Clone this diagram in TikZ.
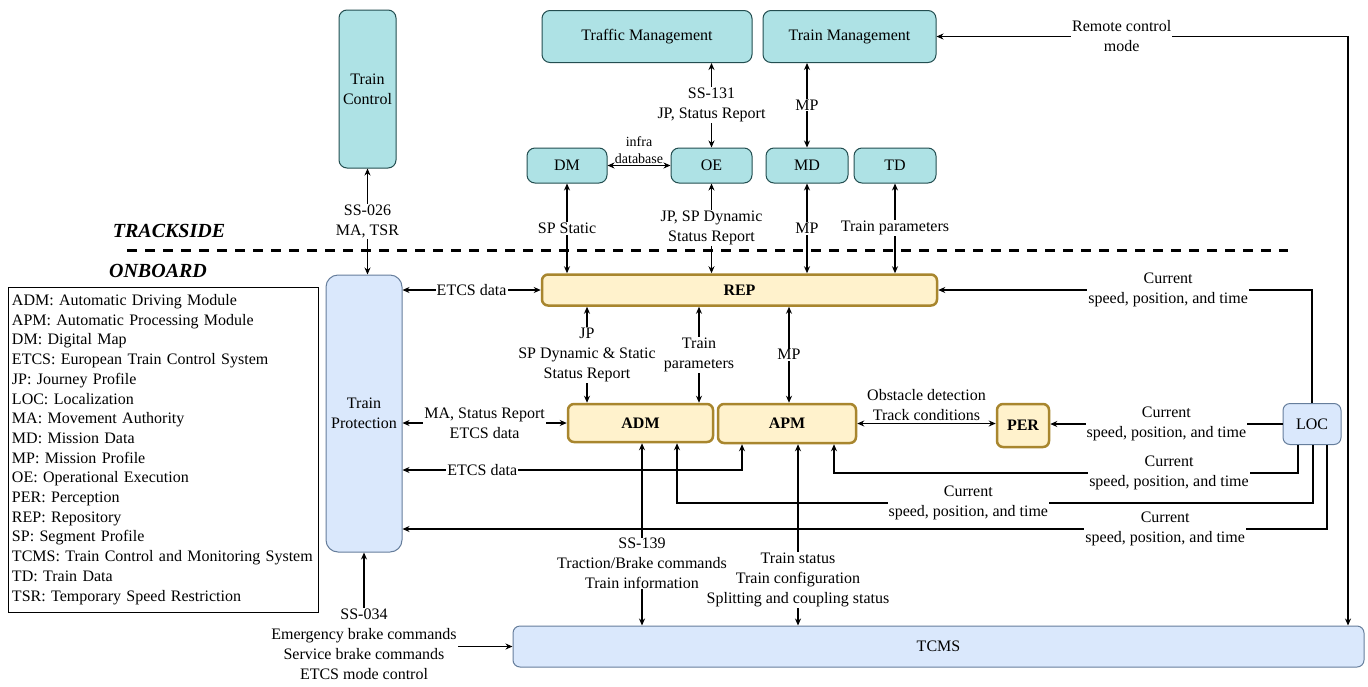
\documentclass[tikz,border=0pt]{standalone}
\usepackage{fontspec}
\setmainfont{Liberation Serif}
\newfontfamily\tms{Liberation Serif}
\usetikzlibrary{arrows.meta,calc}
\definecolor{tealF}{HTML}{AEE2E5}
\definecolor{tealD}{HTML}{234E50}
\definecolor{blueF}{HTML}{DAE8FC}
\definecolor{blueD}{HTML}{667E9C}
\definecolor{yelF}{HTML}{FFF2CC}
\definecolor{yelD}{HTML}{A8862E}
\begin{document}
\begin{tikzpicture}[x=1pt,y=-1pt,
  every node/.style={font=\tms\fontsize{16}{20}\selectfont},
  tbox/.style={draw=tealD, fill=tealF, rounded corners=8pt, line width=1pt, inner sep=0pt, align=center},
  bbox/.style={draw=blueD, fill=blueF, rounded corners=10pt, line width=1pt, inner sep=0pt, align=center},
  ybox/.style={draw=yelD, fill=yelF, rounded corners=6pt, line width=2.5pt, inner sep=0pt, font=\tms\fontsize{16}{20}\selectfont\bfseries},
  lbl/.style={fill=white, inner sep=1pt, align=center},
  tip/.tip={Stealth[length=7pt,width=6pt]},
  conn/.style={line width=1.1pt, tip-tip},
  arr/.style={line width=1.1pt, -tip},
  sepline/.style={line width=3pt, dash pattern=on 10pt off 8pt},
  hdr/.style={font=\tms\fontsize{20}{22}\selectfont\bfseries\itshape}
]
\useasboundingbox (0,0) rectangle (1368,686);
\fill[white] (0,0) rectangle (1368,686);

% separator
\draw[sepline] (127,250) -- (1288,250);
\node[hdr] (ts) at (169,231) {TRACKSIDE};
\node[hdr] (ob) at (158,271) {ONBOARD};

% trackside nodes
\node[tbox, minimum width=57pt, minimum height=158pt] (TC) at (367.5,89) {Train\\Control};
\node[tbox, minimum width=210pt, minimum height=52pt] (TrafM) at (647,36.5) {Traffic Management};
\node[tbox, minimum width=173pt, minimum height=52pt] (TrnM) at (849.5,36.5) {Train Management};
\node[tbox, minimum width=80pt, minimum height=35pt] (DM) at (567,165.5) {DM};
\node[tbox, minimum width=81pt, minimum height=35pt] (OE) at (711.5,165.5) {OE};
\node[tbox, minimum width=82pt, minimum height=35pt] (MD) at (807,165.5) {MD};
\node[tbox, minimum width=82pt, minimum height=35pt] (TD) at (895,165.5) {TD};

% onboard nodes
\node[bbox, rounded corners=12pt, minimum width=76pt, minimum height=277pt] (TP) at (364,413.5) {Train\\Protection};
\node[ybox, minimum width=395pt, minimum height=31pt] (REP) at (739.5,290) {REP};
\node[ybox, minimum width=145pt, minimum height=38pt] (ADM) at (640.5,423) {ADM};
\node[ybox, minimum width=138pt, minimum height=39pt] (APM) at (787,423.5) {APM};
\node[ybox, minimum width=52pt, minimum height=43pt] (PER) at (1023,425.5) {PER};
\node[bbox, rounded corners=7pt, minimum width=58pt, minimum height=41pt] (LOC) at (1312,424) {LOC};
\node[bbox, rounded corners=7pt, minimum width=851pt, minimum height=41pt] (TCMS) at (938.5,646.5) {TCMS};

% trackside connectors
\draw[conn, line width=1.5pt] (TC.south) -- node[lbl] (l026) {SS-026\\MA, TSR} (TC.south |- TP.north);
\draw[conn] (OE.north |- TrafM.south) -- node[lbl] (l131) {SS-131\\JP, Status Report} (OE.north);
\draw[conn] (MD.north |- TrnM.south) -- node[lbl] (lmp1) {MP} (MD.north);
\draw[conn] (DM.east) -- node[above=0pt, align=center, inner sep=1pt, font=\tms\fontsize{14}{17}\selectfont] (linfra) {infra\\database} (OE.west);
\draw[conn] (DM.south) -- node[lbl] (lsps) {SP Static} (DM.south |- REP.north);
\draw[conn] (OE.south) -- node[lbl] (ljp) {JP, SP Dynamic\\Status Report} (OE.south |- REP.north);
\draw[conn, line width=1.5pt] (MD.south) -- node[lbl] (lmp2) {MP} (MD.south |- REP.north);
\draw[conn] (TD.south) -- node[lbl] (ltp) {Train parameters} (TD.south |- REP.north);

% remote control
\coordinate (rc) at (1348,36.5);
\draw[conn] (TrnM.east) -- node[lbl, pos=0.45] (lrc) {Remote control\\mode} (rc) -- (rc |- TCMS.north);

% TP - REP
\draw[conn] (REP.west -| TP.east) -- node[lbl] (letcs1) {ETCS data} (REP.west);

% LOC -> REP
\draw[arr] (LOC.north) -- (LOC.north |- REP.east) -- node[lbl, pos=0.385] (lcur1) {Current\\speed, position, and time} (REP.east);

% REP - ADM/APM
\draw[conn] (587,0 |- REP.south) -- node[lbl] (ljp2) {JP\\SP Dynamic \& Static\\Status Report} (587,0 |- ADM.north);
\draw[conn] (699,0 |- REP.south) -- node[lbl] (ltp2) {Train\\parameters} (699,0 |- ADM.north);
\draw[conn, line width=1.5pt] (789,0 |- REP.south) -- node[lbl] (lmp3) {MP} (789,0 |- APM.north);

% TP - ADM
\draw[conn] (ADM.west -| TP.east) -- node[lbl] (lma) {MA, Status Report\\ETCS data} (ADM.west);

% APM - PER
\draw[conn] (APM.east) -- node[above=1pt, align=center, inner sep=1pt] (lobs) {Obstacle detection\\Track conditions} (APM.east -| PER.west);

% LOC -> PER
\draw[arr] (LOC.west) -- node[lbl] (lcur2) {Current\\speed, position, and time} (LOC.west -| PER.east);

% LOC -> APM
\draw[arr] (1298,0 |- LOC.south) -- (1298,473) -- node[lbl, pos=0.278] (lcur3) {Current\\speed, position, and time} (834,473) -- (834,0 |- APM.south);

% LOC -> ADM
\draw[arr] (1313,0 |- LOC.south) -- (1313,503) -- node[lbl, pos=0.542] (lcur4) {Current\\speed, position, and time} (677,503) -- (677,0 |- ADM.south);

% LOC -> TP
\draw[arr] (1327,0 |- LOC.south) -- (1327,529) -- node[lbl, pos=0.175] (lcur5) {Current\\speed, position, and time} (TP.east |- 0,529);

% TP - APM ETCS data
\draw[conn] (TP.east |- 0,470) -- node[lbl, pos=0.235] (letcs2) {ETCS data} (742,470) -- (742,0 |- APM.south);

% APM/ADM - TCMS
\draw[conn] (798,0 |- APM.south) -- node[lbl, pos=0.75] (lstat) {Train status\\Train configuration\\Splitting and coupling status} (798,0 |- TCMS.north);
\draw[conn, line width=1.5pt] (642,0 |- ADM.south) -- node[lbl, inner sep=0pt, pos=0.66] (l139) {SS-139\\Traction/Brake commands\\Train information} (642,0 |- TCMS.north);

% TP - TCMS
\coordinate (sc) at (TP.south |- TCMS.west);
\draw[conn, line width=1.5pt] (TP.south) -- (sc) -- (TCMS.west);
\node[lbl, yshift=2pt] (l034) at (sc) {SS-034\\Emergency brake commands\\Service brake commands\\ETCS mode control};

% legend
\node[draw, line width=0.8pt, minimum width=310pt, minimum height=325pt, align=left,
      text width=302pt, inner xsep=3pt, font=\tms\fontsize{16}{19.7}\selectfont] (legend) at (163,449.5)
{ADM: Automatic Driving Module\\
APM: Automatic Processing Module\\
DM: Digital Map\\
ETCS: European Train Control System\\
JP: Journey Profile\\
LOC: Localization\\
MA: Movement Authority\\
MD: Mission Data\\
MP: Mission Profile\\
OE: Operational Execution\\
PER: Perception\\
REP: Repository\\
SP: Segment Profile\\
TCMS: Train Control and Monitoring System\\
TD: Train Data\\
TSR: Temporary Speed Restriction};
\end{tikzpicture}
\end{document}
